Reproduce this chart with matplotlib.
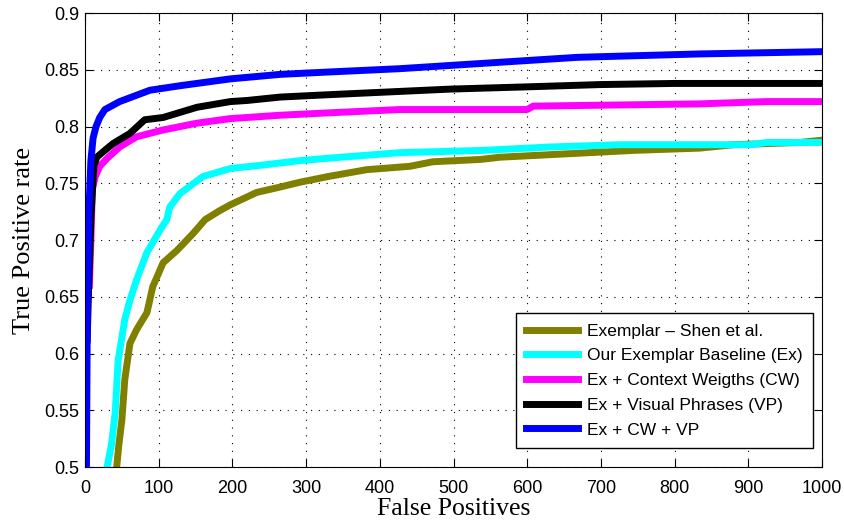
import matplotlib
matplotlib.use('Agg')
import matplotlib.pyplot as plt

# False positives (x) / true positive rate (y)
shen_x = [43, 46, 50, 54, 61, 70, 84, 92, 106, 125, 147, 163, 183, 197, 233, 260, 292, 330, 382, 441, 472, 536, 563, 654, 744, 834, 880, 970, 1000]
shen_y = [0.5, 0.52, 0.541, 0.577, 0.609, 0.621, 0.636, 0.659, 0.68, 0.691, 0.706, 0.718, 0.726, 0.731, 0.742, 0.746, 0.751, 0.756, 0.762, 0.765, 0.769, 0.771, 0.773, 0.776, 0.779, 0.781, 0.784, 0.786, 0.788]

base_x = [30, 36, 41, 45, 54, 61, 70, 84, 102, 111, 115, 129, 160, 197, 240, 292, 328, 427, 540, 631, 726, 902, 925, 1000]
base_y = [0.5, 0.52, 0.548, 0.594, 0.63, 0.647, 0.665, 0.689, 0.709, 0.718, 0.729, 0.741, 0.756, 0.763, 0.766, 0.77, 0.772, 0.777, 0.779, 0.782, 0.784, 0.784, 0.786, 0.786]

cw_x = [6, 8, 10, 14, 20, 30, 47, 70, 106, 152, 197, 265, 328, 427, 600, 608, 834, 925, 1000]
cw_y = [0.66, 0.70, 0.745, 0.756, 0.765, 0.772, 0.782, 0.791, 0.797, 0.803, 0.807, 0.81, 0.812, 0.815, 0.815, 0.818, 0.82, 0.822, 0.822]

vp_x = [3, 5, 8, 12, 16, 25, 38, 61, 81, 106, 152, 197, 220, 265, 328, 495, 600, 699, 800, 1000]
vp_y = [0.612, 0.66, 0.72, 0.765, 0.773, 0.778, 0.785, 0.794, 0.806, 0.808, 0.817, 0.822, 0.823, 0.826, 0.828, 0.833, 0.835, 0.837, 0.838, 0.838]

all_x = [2, 3, 5, 8, 11, 15, 20, 27, 47, 88, 129, 197, 265, 328, 427, 499, 668, 834, 1000]
all_y = [0.5, 0.62, 0.72, 0.77, 0.79, 0.8, 0.808, 0.815, 0.822, 0.832, 0.836, 0.842, 0.846, 0.848, 0.851, 0.854, 0.861, 0.864, 0.866]

series = [
    (shen_x, shen_y, '#808000', 'Exemplar \u2013 Shen et al.'),
    (base_x, base_y, '#00ffff', 'Our Exemplar Baseline (Ex)'),
    (cw_x, cw_y, '#ff00ff', 'Ex + Context Weigths (CW)'),
    (vp_x, vp_y, '#000000', 'Ex + Visual Phrases (VP)'),
    (all_x, all_y, '#0000ff', 'Ex + CW + VP'),
]

plt.rcParams['font.family'] = ['Liberation Sans', 'DejaVu Sans']

fig = plt.figure(figsize=(8.44, 5.23), dpi=100)
ax = fig.add_axes([0.1007, 0.107, 0.8733, 0.868])

for xs, ys, color, label in series:
    ax.plot(xs, ys, color=color, linewidth=5, label=label, solid_joinstyle='round')

ax.set_xlim(0, 1000)
ax.set_ylim(0.5, 0.9)
ax.set_xticks(range(0, 1001, 100))
ax.set_yticks([0.5, 0.55, 0.6, 0.65, 0.7, 0.75, 0.8, 0.85, 0.9])
ax.set_yticklabels(['0.5', '0.55', '0.6', '0.65', '0.7', '0.75', '0.8', '0.85', '0.9'])
ax.tick_params(direction='in', top=True, right=True, labelsize=13, length=6)
ax.tick_params(axis='x', pad=9)
ax.tick_params(axis='y', pad=4)
ax.grid(True, linestyle=(0, (1, 6)), color='black', linewidth=0.8)

ax.set_xlabel('False Positives', fontsize=18.5, family='Liberation Serif', labelpad=1)
ax.set_ylabel('True Positive rate', fontsize=19, family='Liberation Serif')
ax.yaxis.set_label_coords(-0.068, 0.5)

# legend box sits inside the lower right corner
leg = ax.legend(loc='lower right', bbox_to_anchor=(0.988, 0.042), borderaxespad=0,
                fontsize=12.5, fancybox=False, framealpha=1, edgecolor='black',
                handlelength=3.0, handletextpad=0.5, borderpad=0.6, labelspacing=0.55)
leg.get_frame().set_linewidth(1.0)

plt.savefig('out.png', dpi=100)
plt.close(fig)
